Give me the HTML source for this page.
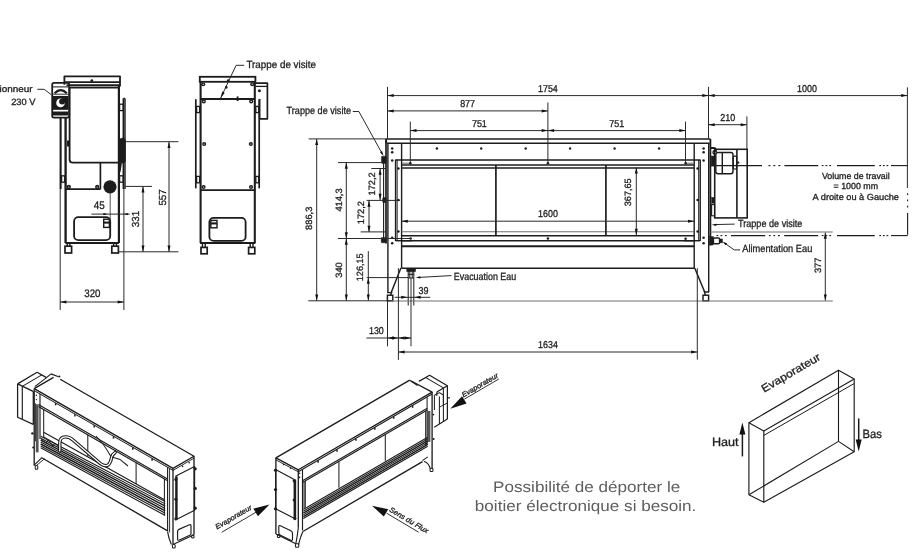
<!DOCTYPE html>
<html><head><meta charset="utf-8"><title>Plan</title>
<style>
html,body{margin:0;padding:0;background:#fff;}
body{width:923px;height:556px;overflow:hidden;font-family:"Liberation Sans",sans-serif;}
svg{display:block;font-family:"Liberation Sans",sans-serif;}
</style></head><body>
<svg style="will-change:transform;text-rendering:geometricPrecision" width="923" height="556" viewBox="0 0 923 556">
<rect x="0" y="0" width="923" height="556" fill="#ffffff"/>
<path d="M64.4 84.7 L64.4 76.3 L120 76.3 L120 86.5" fill="none" stroke="#1c1c1c" stroke-width="1.82" stroke-linejoin="round"/>
<line x1="64.4" y1="82.1" x2="120" y2="82.1" stroke="#1c1c1c" stroke-width="1.56"/>
<line x1="66.5" y1="85.2" x2="120" y2="85.2" stroke="#1c1c1c" stroke-width="1.95"/>
<line x1="69" y1="87.6" x2="119.3" y2="87.6" stroke="#1c1c1c" stroke-width="1.95"/>
<circle cx="91.8" cy="80.6" r="1.35" fill="#1c1c1c" stroke="none" stroke-width="0"/>
<path d="M69.6 87.6 V159.5 Q69.6 162.7 72.8 162.7 H118.7" fill="none" stroke="#1c1c1c" stroke-width="1.82"/>
<line x1="118.9" y1="86" x2="118.9" y2="243" stroke="#1c1c1c" stroke-width="2.21"/>
<line x1="60.6" y1="118" x2="60.6" y2="189" stroke="#1c1c1c" stroke-width="2.08"/>
<line x1="65.6" y1="118" x2="65.6" y2="243" stroke="#1c1c1c" stroke-width="2.34"/>
<rect x="61.6" y="175.8" width="3" height="6.4" rx="0" fill="none" stroke="#1c1c1c" stroke-width="1.3"/>
<line x1="68.2" y1="140.5" x2="68.2" y2="146.5" stroke="#1c1c1c" stroke-width="2.34"/>
<line x1="123.4" y1="98.4" x2="123.4" y2="189" stroke="#1c1c1c" stroke-width="1.69"/>
<line x1="125" y1="98.4" x2="125" y2="189" stroke="#1c1c1c" stroke-width="1.43"/>
<line x1="123.4" y1="98.4" x2="125" y2="98.4" stroke="#1c1c1c" stroke-width="1.3"/>
<rect x="119.6" y="104.2" width="3.6" height="6.4" rx="0" fill="none" stroke="#1c1c1c" stroke-width="1.3"/>
<rect x="119.6" y="175.8" width="3.6" height="6.4" rx="0" fill="none" stroke="#1c1c1c" stroke-width="1.3"/>
<rect x="119.4" y="138.2" width="6" height="24.8" rx="2.6" fill="#1c1c1c" stroke="#1c1c1c" stroke-width="0.65"/>
<line x1="121" y1="163" x2="119.6" y2="172" stroke="#1c1c1c" stroke-width="1.82"/>
<line x1="100.4" y1="162.7" x2="100.4" y2="189.3" stroke="#1c1c1c" stroke-width="1.69"/>
<line x1="66" y1="189.2" x2="100.4" y2="189.2" stroke="#1c1c1c" stroke-width="1.82"/>
<circle cx="68.8" cy="187" r="2.15" fill="#1c1c1c" stroke="none" stroke-width="0"/>
<circle cx="68.8" cy="187" r="0.62" fill="#fff" stroke="none" stroke-width="0"/>
<circle cx="97.2" cy="187" r="2.15" fill="#1c1c1c" stroke="none" stroke-width="0"/>
<circle cx="97.2" cy="187" r="0.62" fill="#fff" stroke="none" stroke-width="0"/>
<circle cx="110" cy="186.8" r="6.6" fill="#1c1c1c" stroke="none" stroke-width="0"/>
<line x1="110.2" y1="192" x2="110.2" y2="219.5" stroke="#2a2a2a" stroke-width="0.8"/>
<line x1="65.4" y1="243" x2="118.9" y2="243" stroke="#1c1c1c" stroke-width="1.82"/>
<rect x="74.1" y="217.1" width="36.1" height="23" rx="4.2" fill="none" stroke="#1c1c1c" stroke-width="1.82"/>
<rect x="103.7" y="219.2" width="5.7" height="8.2" rx="0" fill="none" stroke="#1c1c1c" stroke-width="1.43"/>
<line x1="103.7" y1="222.6" x2="109.4" y2="222.6" stroke="#1c1c1c" stroke-width="2.08"/>
<line x1="67.2" y1="243" x2="67.2" y2="246" stroke="#1c1c1c" stroke-width="1.43"/>
<line x1="69.8" y1="243" x2="69.8" y2="246" stroke="#1c1c1c" stroke-width="1.43"/>
<line x1="113.6" y1="243" x2="113.6" y2="246" stroke="#1c1c1c" stroke-width="1.43"/>
<line x1="116.4" y1="243" x2="116.4" y2="246" stroke="#1c1c1c" stroke-width="1.43"/>
<rect x="65" y="246.2" width="6.6" height="6.8" rx="0" fill="none" stroke="#1c1c1c" stroke-width="1.69"/>
<rect x="111.8" y="246.2" width="6.6" height="6.8" rx="0" fill="none" stroke="#1c1c1c" stroke-width="1.69"/>
<rect x="52.2" y="82.8" width="17" height="34.8" rx="1.8" fill="none" stroke="#1c1c1c" stroke-width="1.76"/>
<line x1="52.6" y1="86.9" x2="68.8" y2="86.9" stroke="#1c1c1c" stroke-width="1.04"/>
<path d="M54.6 93.2 Q60.7 87.0 66.8 93.2" fill="none" stroke="#1c1c1c" stroke-width="2.21"/>
<line x1="53" y1="94.2" x2="68.4" y2="94.2" stroke="#1c1c1c" stroke-width="0.91"/>
<rect x="53" y="96" width="15.4" height="13.8" rx="0" fill="#1c1c1c" stroke="#1c1c1c" stroke-width="0.13"/>
<rect x="53" y="111.6" width="15.4" height="3.8" rx="0" fill="#1c1c1c" stroke="#1c1c1c" stroke-width="0.13"/>
<circle cx="60.5" cy="102.9" r="4.3" fill="#fff" stroke="none" stroke-width="0"/>
<circle cx="62.1" cy="101.5" r="3" fill="#1c1c1c" stroke="none" stroke-width="0"/>
<rect x="62.4" y="99.4" width="4.2" height="2" rx="0" fill="#1c1c1c" stroke="#1c1c1c" stroke-width="0.13"/>
<text x="32.6" y="92.3" font-size="9.1" text-anchor="end" fill="#1e1e1e" textLength="53" lengthAdjust="spacingAndGlyphs" stroke="#1e1e1e" stroke-width="0.3">Sectionneur</text>
<text x="35.4" y="104.5" font-size="9.1" text-anchor="end" fill="#1e1e1e" textLength="24.2" lengthAdjust="spacingAndGlyphs" stroke="#1e1e1e" stroke-width="0.3">230 V</text>
<path d="M37.3 89.3 L44.2 89.3 L51.4 94.8" fill="none" stroke="#2a2a2a" stroke-width="1" stroke-linejoin="round"/>
<line x1="60.2" y1="189" x2="60.2" y2="310" stroke="#2a2a2a" stroke-width="1"/>
<line x1="123.9" y1="189" x2="123.9" y2="310" stroke="#2a2a2a" stroke-width="1"/>
<line x1="60.2" y1="302" x2="123.9" y2="302" stroke="#2a2a2a" stroke-width="1"/>
<polygon points="60.2,302 66.4,300.5 66.4,303.5" fill="#111"/>
<polygon points="123.9,302 117.7,303.5 117.7,300.5" fill="#111"/>
<text x="92.4" y="296.6" font-size="10.9" text-anchor="middle" fill="#1e1e1e" textLength="16.2" lengthAdjust="spacingAndGlyphs" stroke="#1e1e1e" stroke-width="0.3">320</text>
<line x1="91.4" y1="214.1" x2="129.7" y2="214.1" stroke="#2a2a2a" stroke-width="1"/>
<polygon points="107.8,214.1 103.4,215.3 103.4,212.9" fill="#111"/>
<polygon points="123.9,214.1 127.9,212.9 127.9,215.3" fill="#111"/>
<text x="99.2" y="209.4" font-size="10.9" text-anchor="middle" fill="#1e1e1e" textLength="11" lengthAdjust="spacingAndGlyphs" stroke="#1e1e1e" stroke-width="0.3">45</text>
<line x1="125.4" y1="186.4" x2="152" y2="186.4" stroke="#2a2a2a" stroke-width="1"/>
<line x1="118.7" y1="251.8" x2="178.4" y2="251.8" stroke="#2a2a2a" stroke-width="1"/>
<line x1="143" y1="186.4" x2="143" y2="251.8" stroke="#2a2a2a" stroke-width="1"/>
<polygon points="143,186.4 144.5,192.6 141.5,192.6" fill="#111"/>
<polygon points="143,251.8 141.5,245.6 144.5,245.6" fill="#111"/>
<text x="138.97" y="219" font-size="10.2" text-anchor="middle" fill="#1e1e1e" transform="rotate(-90 138.97 219)" textLength="16.4" lengthAdjust="spacingAndGlyphs" stroke="#1e1e1e" stroke-width="0.3">331</text>
<line x1="125.4" y1="141.7" x2="178.4" y2="141.7" stroke="#2a2a2a" stroke-width="1"/>
<line x1="169" y1="141.7" x2="169" y2="251.8" stroke="#2a2a2a" stroke-width="1"/>
<polygon points="169,141.7 170.5,147.9 167.5,147.9" fill="#111"/>
<polygon points="169,251.8 167.5,245.6 170.5,245.6" fill="#111"/>
<text x="165.97" y="197.4" font-size="10.2" text-anchor="middle" fill="#1e1e1e" transform="rotate(-90 165.97 197.4)" textLength="16.4" lengthAdjust="spacingAndGlyphs" stroke="#1e1e1e" stroke-width="0.3">557</text>
<rect x="199.8" y="76.8" width="55.6" height="5" rx="0" fill="none" stroke="#1c1c1c" stroke-width="1.82"/>
<line x1="200.6" y1="81.8" x2="200.6" y2="243" stroke="#1c1c1c" stroke-width="2.08"/>
<line x1="254.8" y1="81.8" x2="254.8" y2="243" stroke="#1c1c1c" stroke-width="2.08"/>
<line x1="200" y1="99" x2="255" y2="99" stroke="#1c1c1c" stroke-width="1.82"/>
<path d="M255.4 83.2 L267.4 83.2 L267.4 118.8 L259.6 118.8 L259.6 99" fill="none" stroke="#1c1c1c" stroke-width="1.69" stroke-linejoin="round"/>
<line x1="255.4" y1="86.4" x2="267.4" y2="86.4" stroke="#1c1c1c" stroke-width="1.3"/>
<circle cx="259.4" cy="90.8" r="1.5" fill="#1c1c1c" stroke="none" stroke-width="0"/>
<line x1="195.8" y1="99.2" x2="195.8" y2="188.4" stroke="#1c1c1c" stroke-width="1.69"/>
<line x1="259.2" y1="99.2" x2="259.2" y2="188.4" stroke="#1c1c1c" stroke-width="1.69"/>
<rect x="196.6" y="106.4" width="3" height="6.2" rx="0" fill="none" stroke="#1c1c1c" stroke-width="1.3"/>
<rect x="255.8" y="106.4" width="2.8" height="6.2" rx="0" fill="none" stroke="#1c1c1c" stroke-width="1.3"/>
<rect x="196.6" y="176.4" width="3" height="6.4" rx="0" fill="none" stroke="#1c1c1c" stroke-width="1.3"/>
<rect x="255.8" y="176.4" width="2.8" height="6.4" rx="0" fill="none" stroke="#1c1c1c" stroke-width="1.3"/>
<circle cx="203.2" cy="84.2" r="2.05" fill="#1c1c1c" stroke="none" stroke-width="0"/>
<circle cx="203.2" cy="84.2" r="0.62" fill="#fff" stroke="none" stroke-width="0"/>
<circle cx="252.2" cy="84.2" r="2.05" fill="#1c1c1c" stroke="none" stroke-width="0"/>
<circle cx="252.2" cy="84.2" r="0.62" fill="#fff" stroke="none" stroke-width="0"/>
<circle cx="203.8" cy="101.4" r="2.05" fill="#1c1c1c" stroke="none" stroke-width="0"/>
<circle cx="203.8" cy="101.4" r="0.62" fill="#fff" stroke="none" stroke-width="0"/>
<circle cx="251.2" cy="101.4" r="2.05" fill="#1c1c1c" stroke="none" stroke-width="0"/>
<circle cx="251.2" cy="101.4" r="0.62" fill="#fff" stroke="none" stroke-width="0"/>
<circle cx="204.2" cy="144" r="2.05" fill="#1c1c1c" stroke="none" stroke-width="0"/>
<circle cx="204.2" cy="144" r="0.62" fill="#fff" stroke="none" stroke-width="0"/>
<circle cx="250.8" cy="144" r="2.05" fill="#1c1c1c" stroke="none" stroke-width="0"/>
<circle cx="250.8" cy="144" r="0.62" fill="#fff" stroke="none" stroke-width="0"/>
<circle cx="203.6" cy="187" r="2.05" fill="#1c1c1c" stroke="none" stroke-width="0"/>
<circle cx="203.6" cy="187" r="0.62" fill="#fff" stroke="none" stroke-width="0"/>
<circle cx="251" cy="187" r="2.05" fill="#1c1c1c" stroke="none" stroke-width="0"/>
<circle cx="251" cy="187" r="0.62" fill="#fff" stroke="none" stroke-width="0"/>
<line x1="237.6" y1="96.4" x2="237.6" y2="101" stroke="#1c1c1c" stroke-width="1.82"/>
<line x1="200" y1="190.2" x2="255.4" y2="190.2" stroke="#1c1c1c" stroke-width="1.82"/>
<line x1="200" y1="243" x2="255.4" y2="243" stroke="#1c1c1c" stroke-width="1.82"/>
<rect x="209.4" y="217.8" width="36.2" height="23.1" rx="4.2" fill="none" stroke="#1c1c1c" stroke-width="1.82"/>
<rect x="210.8" y="220.4" width="6.2" height="7.4" rx="0" fill="none" stroke="#1c1c1c" stroke-width="1.43"/>
<line x1="210.8" y1="223.4" x2="217" y2="223.4" stroke="#1c1c1c" stroke-width="2.08"/>
<line x1="202.4" y1="243" x2="202.4" y2="247.4" stroke="#1c1c1c" stroke-width="1.43"/>
<line x1="205.2" y1="243" x2="205.2" y2="247.4" stroke="#1c1c1c" stroke-width="1.43"/>
<line x1="250.2" y1="243" x2="250.2" y2="247.4" stroke="#1c1c1c" stroke-width="1.43"/>
<line x1="253" y1="243" x2="253" y2="247.4" stroke="#1c1c1c" stroke-width="1.43"/>
<rect x="201" y="247.4" width="6.2" height="6.4" rx="0" fill="none" stroke="#1c1c1c" stroke-width="1.69"/>
<rect x="248.6" y="247.4" width="6.2" height="6.4" rx="0" fill="none" stroke="#1c1c1c" stroke-width="1.69"/>
<text x="246.4" y="68" font-size="10.4" text-anchor="start" fill="#1e1e1e" textLength="69.6" lengthAdjust="spacingAndGlyphs" stroke="#1e1e1e" stroke-width="0.3">Trappe de visite</text>
<path d="M244.2 65.3 L236.1 65.3 L220.4 98.6" fill="none" stroke="#2a2a2a" stroke-width="1" stroke-linejoin="round"/>
<polygon points="220.5,98.4 222.27,91.49 224.71,92.65" fill="#111"/>
<circle cx="228.2" cy="80.5" r="1.3" fill="#1c1c1c" stroke="none" stroke-width="0"/>
<circle cx="226.3" cy="87.4" r="1.3" fill="#1c1c1c" stroke="none" stroke-width="0"/>
<line x1="386" y1="139" x2="710.4" y2="139" stroke="#1c1c1c" stroke-width="1.57"/>
<line x1="387" y1="143.2" x2="709.6" y2="143.2" stroke="#1c1c1c" stroke-width="1.57"/>
<path d="M386.2 143.2 V139.6" fill="none" stroke="#1c1c1c" stroke-width="1.79"/>
<line x1="386" y1="139" x2="386" y2="243.5" stroke="#1c1c1c" stroke-width="1.68"/>
<line x1="387.9" y1="143" x2="387.9" y2="293" stroke="#1c1c1c" stroke-width="1.4"/>
<line x1="708.7" y1="143" x2="708.7" y2="292" stroke="#1c1c1c" stroke-width="1.4"/>
<line x1="710.4" y1="139" x2="710.4" y2="245.5" stroke="#1c1c1c" stroke-width="1.79"/>
<line x1="401.6" y1="143.2" x2="401.6" y2="268.2" stroke="#1c1c1c" stroke-width="1.4"/>
<line x1="694.2" y1="143.2" x2="694.2" y2="268.2" stroke="#1c1c1c" stroke-width="1.4"/>
<path d="M395.6 241 L395.6 159.9 L700.2 159.9 L700.2 241" fill="none" stroke="#1c1c1c" stroke-width="1.46" stroke-linejoin="round"/>
<line x1="395.6" y1="240.7" x2="412" y2="240.7" stroke="#1c1c1c" stroke-width="1.46"/>
<line x1="684" y1="240.7" x2="700.2" y2="240.7" stroke="#1c1c1c" stroke-width="1.46"/>
<line x1="401.6" y1="165" x2="694.2" y2="165" stroke="#1c1c1c" stroke-width="1.46"/>
<line x1="401.6" y1="167.9" x2="694.2" y2="167.9" stroke="#1c1c1c" stroke-width="1.46"/>
<line x1="402" y1="163.2" x2="411" y2="163.2" stroke="#777" stroke-width="1.12"/>
<line x1="685" y1="163.2" x2="694" y2="163.2" stroke="#777" stroke-width="1.12"/>
<line x1="397.2" y1="159.9" x2="397.2" y2="241" stroke="#1c1c1c" stroke-width="0.9"/>
<line x1="698.6" y1="159.9" x2="698.6" y2="241" stroke="#1c1c1c" stroke-width="0.9"/>
<line x1="401.6" y1="231.8" x2="694.2" y2="231.8" stroke="#707070" stroke-width="1.12"/>
<line x1="401.6" y1="235.7" x2="694.2" y2="235.7" stroke="#1c1c1c" stroke-width="1.57"/>
<line x1="401.6" y1="240.7" x2="694.2" y2="240.7" stroke="#1c1c1c" stroke-width="1.46"/>
<line x1="401.6" y1="246.3" x2="694.2" y2="246.3" stroke="#1c1c1c" stroke-width="1.9"/>
<line x1="401.6" y1="268.2" x2="694.2" y2="268.2" stroke="#1c1c1c" stroke-width="1.57"/>
<line x1="495.9" y1="165" x2="495.9" y2="235.7" stroke="#1c1c1c" stroke-width="1.68"/>
<line x1="605.9" y1="165" x2="605.9" y2="235.7" stroke="#1c1c1c" stroke-width="1.68"/>
<circle cx="436.9" cy="148.5" r="1.2" fill="#1c1c1c" stroke="none" stroke-width="0"/>
<circle cx="481.2" cy="148.5" r="1.2" fill="#1c1c1c" stroke="none" stroke-width="0"/>
<circle cx="525.7" cy="148.5" r="1.2" fill="#1c1c1c" stroke="none" stroke-width="0"/>
<circle cx="570.1" cy="148.5" r="1.2" fill="#1c1c1c" stroke="none" stroke-width="0"/>
<circle cx="614.6" cy="148.5" r="1.2" fill="#1c1c1c" stroke="none" stroke-width="0"/>
<circle cx="659.1" cy="148.5" r="1.2" fill="#1c1c1c" stroke="none" stroke-width="0"/>
<circle cx="392.2" cy="148.4" r="1.25" fill="#1c1c1c" stroke="none" stroke-width="0"/>
<circle cx="703.6" cy="148.4" r="1.25" fill="#1c1c1c" stroke="none" stroke-width="0"/>
<circle cx="392.2" cy="152.3" r="1.25" fill="#1c1c1c" stroke="none" stroke-width="0"/>
<circle cx="703.6" cy="152.3" r="1.25" fill="#1c1c1c" stroke="none" stroke-width="0"/>
<circle cx="392.2" cy="160.6" r="1.25" fill="#1c1c1c" stroke="none" stroke-width="0"/>
<circle cx="703.6" cy="160.6" r="1.25" fill="#1c1c1c" stroke="none" stroke-width="0"/>
<circle cx="392.2" cy="237.7" r="1.25" fill="#1c1c1c" stroke="none" stroke-width="0"/>
<circle cx="703.6" cy="237.7" r="1.25" fill="#1c1c1c" stroke="none" stroke-width="0"/>
<circle cx="392.2" cy="243.2" r="1.25" fill="#1c1c1c" stroke="none" stroke-width="0"/>
<circle cx="703.6" cy="243.2" r="1.25" fill="#1c1c1c" stroke="none" stroke-width="0"/>
<circle cx="410.4" cy="163.2" r="1.25" fill="#1c1c1c" stroke="none" stroke-width="0"/>
<circle cx="547.9" cy="163.2" r="1.25" fill="#1c1c1c" stroke="none" stroke-width="0"/>
<circle cx="685.6" cy="163.2" r="1.25" fill="#1c1c1c" stroke="none" stroke-width="0"/>
<circle cx="398.4" cy="168.5" r="1.25" fill="#1c1c1c" stroke="none" stroke-width="0"/>
<circle cx="697.6" cy="168.5" r="1.25" fill="#1c1c1c" stroke="none" stroke-width="0"/>
<circle cx="398.4" cy="200.1" r="1.25" fill="#1c1c1c" stroke="none" stroke-width="0"/>
<circle cx="697.6" cy="200.1" r="1.25" fill="#1c1c1c" stroke="none" stroke-width="0"/>
<circle cx="398.4" cy="231.4" r="1.25" fill="#1c1c1c" stroke="none" stroke-width="0"/>
<circle cx="697.6" cy="231.4" r="1.25" fill="#1c1c1c" stroke="none" stroke-width="0"/>
<circle cx="410.6" cy="238.6" r="1.25" fill="#1c1c1c" stroke="none" stroke-width="0"/>
<circle cx="547.9" cy="238.6" r="1.25" fill="#1c1c1c" stroke="none" stroke-width="0"/>
<circle cx="685.6" cy="238.7" r="1.25" fill="#1c1c1c" stroke="none" stroke-width="0"/>
<rect x="381.4" y="156.2" width="5" height="7.2" rx="0.8" fill="#1c1c1c" stroke="#1c1c1c" stroke-width="0.45"/>
<rect x="381.2" y="237.4" width="5.2" height="5.4" rx="0.8" fill="#1c1c1c" stroke="#1c1c1c" stroke-width="0.45"/>
<rect x="382.6" y="197.6" width="3.6" height="5" rx="1.2" fill="#1c1c1c" stroke="#1c1c1c" stroke-width="0.45"/>
<line x1="383.6" y1="163" x2="383.6" y2="238" stroke="#1c1c1c" stroke-width="1.12"/>
<line x1="400.9" y1="268" x2="391.2" y2="292.4" stroke="#1c1c1c" stroke-width="1.46"/>
<line x1="694.7" y1="268" x2="704.8" y2="292.2" stroke="#1c1c1c" stroke-width="1.46"/>
<rect x="387.4" y="295.2" width="5.4" height="5.6" rx="0" fill="none" stroke="#1c1c1c" stroke-width="1.46"/>
<rect x="703" y="295.2" width="5.6" height="5.6" rx="0" fill="none" stroke="#1c1c1c" stroke-width="1.46"/>
<path d="M387.4 292.6 H391.6 L390.6 295.2" fill="none" stroke="#1c1c1c" stroke-width="1.34"/>
<path d="M709.2 292 H704.4 L705.4 295.2" fill="none" stroke="#1c1c1c" stroke-width="1.34"/>
<rect x="406.8" y="268.6" width="8.8" height="3" rx="0" fill="#1c1c1c" stroke="#1c1c1c" stroke-width="0.56"/>
<line x1="408.2" y1="271" x2="408.2" y2="305.5" stroke="#1c1c1c" stroke-width="1.01"/>
<line x1="413.8" y1="271" x2="413.8" y2="305.5" stroke="#1c1c1c" stroke-width="1.01"/>
<line x1="409.8" y1="271" x2="409.8" y2="278" stroke="#1c1c1c" stroke-width="1.01"/>
<line x1="412.2" y1="271" x2="412.2" y2="278" stroke="#1c1c1c" stroke-width="1.01"/>
<line x1="408.2" y1="274.4" x2="413.8" y2="274.4" stroke="#1c1c1c" stroke-width="1.01"/>
<line x1="408.2" y1="278" x2="413.8" y2="278" stroke="#1c1c1c" stroke-width="1.01"/>
<rect x="714.7" y="149.3" width="32.5" height="68.6" rx="0" fill="none" stroke="#1c1c1c" stroke-width="1.57"/>
<line x1="736.9" y1="149.3" x2="736.9" y2="217.9" stroke="#1c1c1c" stroke-width="1.57"/>
<rect x="715.8" y="152.4" width="17.2" height="21.4" rx="2.2" fill="none" stroke="#1c1c1c" stroke-width="1.46"/>
<line x1="722.3" y1="152.4" x2="722.3" y2="173.8" stroke="#1c1c1c" stroke-width="1.46"/>
<rect x="733.2" y="156.2" width="3.4" height="12.8" rx="1" fill="none" stroke="#1c1c1c" stroke-width="1.23"/>
<circle cx="738.2" cy="162.6" r="1.2" fill="#1c1c1c" stroke="none" stroke-width="0"/>
<path d="M710.6 148 H713.4 Q716 148 716 150.6 V152" fill="none" stroke="#1c1c1c" stroke-width="1.79"/>
<path d="M714.4 150.4 Q711.8 152 714 154.4" fill="none" stroke="#1c1c1c" stroke-width="1.34"/>
<rect x="711.6" y="197.4" width="3" height="5.8" rx="0" fill="#1c1c1c" stroke="#1c1c1c" stroke-width="0.45"/>
<rect x="711.6" y="204.6" width="3" height="11.2" rx="0" fill="none" stroke="#1c1c1c" stroke-width="1.12"/>
<rect x="711.2" y="156" width="3.2" height="10" rx="0" fill="#1c1c1c" stroke="#1c1c1c" stroke-width="0.45"/>
<rect x="709.6" y="236.6" width="3.8" height="8.4" rx="0" fill="#1c1c1c" stroke="#1c1c1c" stroke-width="0.45"/>
<rect x="713.4" y="238" width="6.2" height="5.8" rx="1.3" fill="none" stroke="#1c1c1c" stroke-width="1.46"/>
<rect x="719.6" y="239" width="2.8" height="3.8" rx="0" fill="#1c1c1c" stroke="#1c1c1c" stroke-width="0.56"/>
<line x1="387.5" y1="86.9" x2="387.5" y2="139" stroke="#2a2a2a" stroke-width="1"/>
<line x1="708.5" y1="86.9" x2="708.5" y2="139" stroke="#2a2a2a" stroke-width="1"/>
<line x1="907.4" y1="87.4" x2="907.4" y2="188" stroke="#2a2a2a" stroke-width="1"/>
<line x1="547.9" y1="102.5" x2="547.9" y2="163.2" stroke="#2a2a2a" stroke-width="1"/>
<line x1="410.3" y1="121.6" x2="410.3" y2="163.2" stroke="#2a2a2a" stroke-width="1"/>
<line x1="685.5" y1="121.6" x2="685.5" y2="163.2" stroke="#2a2a2a" stroke-width="1"/>
<line x1="746.9" y1="116.4" x2="746.9" y2="149.3" stroke="#2a2a2a" stroke-width="1"/>
<line x1="387.5" y1="95.6" x2="708.5" y2="95.6" stroke="#2a2a2a" stroke-width="1"/>
<polygon points="387.5,95.6 393.7,94.1 393.7,97.1" fill="#111"/>
<polygon points="708.5,95.6 702.3,97.1 702.3,94.1" fill="#111"/>
<line x1="708.5" y1="95.6" x2="907.4" y2="95.6" stroke="#2a2a2a" stroke-width="1"/>
<polygon points="708.5,95.6 714.7,94.1 714.7,97.1" fill="#111"/>
<polygon points="907.4,95.6 901.2,97.1 901.2,94.1" fill="#111"/>
<text x="547.9" y="91.8" font-size="10" text-anchor="middle" fill="#1e1e1e" textLength="19.8" lengthAdjust="spacingAndGlyphs" stroke="#1e1e1e" stroke-width="0.3">1754</text>
<text x="807" y="92" font-size="10" text-anchor="middle" fill="#1e1e1e" textLength="19.8" lengthAdjust="spacingAndGlyphs" stroke="#1e1e1e" stroke-width="0.3">1000</text>
<line x1="387.5" y1="110.9" x2="547.9" y2="110.9" stroke="#2a2a2a" stroke-width="1"/>
<polygon points="387.5,110.9 393.7,109.4 393.7,112.4" fill="#111"/>
<polygon points="547.9,110.9 541.7,112.4 541.7,109.4" fill="#111"/>
<text x="467.6" y="106.9" font-size="10" text-anchor="middle" fill="#1e1e1e" textLength="14.9" lengthAdjust="spacingAndGlyphs" stroke="#1e1e1e" stroke-width="0.3">877</text>
<line x1="410.3" y1="130.6" x2="547.9" y2="130.6" stroke="#2a2a2a" stroke-width="1"/>
<polygon points="410.3,130.6 416.5,129.1 416.5,132.1" fill="#111"/>
<polygon points="547.9,130.6 541.7,132.1 541.7,129.1" fill="#111"/>
<line x1="547.9" y1="130.6" x2="685.5" y2="130.6" stroke="#2a2a2a" stroke-width="1"/>
<polygon points="547.9,130.6 554.1,129.1 554.1,132.1" fill="#111"/>
<polygon points="685.5,130.6 679.3,132.1 679.3,129.1" fill="#111"/>
<text x="479.4" y="126.8" font-size="10" text-anchor="middle" fill="#1e1e1e" textLength="14.9" lengthAdjust="spacingAndGlyphs" stroke="#1e1e1e" stroke-width="0.3">751</text>
<text x="616.8" y="126.8" font-size="10" text-anchor="middle" fill="#1e1e1e" textLength="14.9" lengthAdjust="spacingAndGlyphs" stroke="#1e1e1e" stroke-width="0.3">751</text>
<line x1="708.5" y1="124.7" x2="746.9" y2="124.7" stroke="#2a2a2a" stroke-width="1"/>
<polygon points="708.5,124.7 714.7,123.2 714.7,126.2" fill="#111"/>
<polygon points="746.9,124.7 740.7,126.2 740.7,123.2" fill="#111"/>
<text x="727.8" y="121" font-size="10" text-anchor="middle" fill="#1e1e1e" textLength="14.9" lengthAdjust="spacingAndGlyphs" stroke="#1e1e1e" stroke-width="0.3">210</text>
<line x1="401.6" y1="221.2" x2="694.2" y2="221.2" stroke="#2a2a2a" stroke-width="1"/>
<polygon points="401.6,221.2 407.8,219.7 407.8,222.7" fill="#111"/>
<polygon points="694.2,221.2 688,222.7 688,219.7" fill="#111"/>
<text x="548" y="216.6" font-size="10" text-anchor="middle" fill="#1e1e1e" textLength="19.8" lengthAdjust="spacingAndGlyphs" stroke="#1e1e1e" stroke-width="0.3">1600</text>
<line x1="636.3" y1="167.4" x2="636.3" y2="235" stroke="#2a2a2a" stroke-width="1"/>
<polygon points="636.3,167.4 637.8,173.6 634.8,173.6" fill="#111"/>
<polygon points="636.3,235 634.8,228.8 637.8,228.8" fill="#111"/>
<text x="630.91" y="192.3" font-size="9.2" text-anchor="middle" fill="#1e1e1e" transform="rotate(-90 630.91 192.3)" textLength="27.8" lengthAdjust="spacingAndGlyphs" stroke="#1e1e1e" stroke-width="0.3">367,65</text>
<line x1="308.6" y1="138.9" x2="386" y2="138.9" stroke="#2a2a2a" stroke-width="1"/>
<line x1="308.3" y1="300.8" x2="389.5" y2="300.8" stroke="#2a2a2a" stroke-width="1"/>
<line x1="316.7" y1="138.9" x2="316.7" y2="300.8" stroke="#2a2a2a" stroke-width="1"/>
<polygon points="316.7,138.9 318.2,145.1 315.2,145.1" fill="#111"/>
<polygon points="316.7,300.8 315.2,294.6 318.2,294.6" fill="#111"/>
<text x="311.81" y="218.3" font-size="9.2" text-anchor="middle" fill="#1e1e1e" transform="rotate(-90 311.81 218.3)" textLength="23.2" lengthAdjust="spacingAndGlyphs" stroke="#1e1e1e" stroke-width="0.3">886,3</text>
<line x1="338" y1="162.6" x2="381.4" y2="162.6" stroke="#2a2a2a" stroke-width="1"/>
<line x1="337.9" y1="238.5" x2="412" y2="238.5" stroke="#2a2a2a" stroke-width="1"/>
<line x1="346.3" y1="162.6" x2="346.3" y2="238.5" stroke="#2a2a2a" stroke-width="1"/>
<polygon points="346.3,162.6 347.8,168.8 344.8,168.8" fill="#111"/>
<polygon points="346.3,238.5 344.8,232.3 347.8,232.3" fill="#111"/>
<line x1="346.3" y1="238.5" x2="346.3" y2="300.8" stroke="#2a2a2a" stroke-width="1"/>
<polygon points="346.3,238.5 347.8,244.7 344.8,244.7" fill="#111"/>
<polygon points="346.3,300.8 344.8,294.6 347.8,294.6" fill="#111"/>
<text x="341.71" y="200" font-size="9.2" text-anchor="middle" fill="#1e1e1e" transform="rotate(-90 341.71 200)" textLength="23.2" lengthAdjust="spacingAndGlyphs" stroke="#1e1e1e" stroke-width="0.3">414,3</text>
<text x="342.01" y="270" font-size="9.2" text-anchor="middle" fill="#1e1e1e" transform="rotate(-90 342.01 270)" textLength="15.6" lengthAdjust="spacingAndGlyphs" stroke="#1e1e1e" stroke-width="0.3">340</text>
<line x1="371.3" y1="168.5" x2="386" y2="168.5" stroke="#2a2a2a" stroke-width="1"/>
<line x1="366.7" y1="200.4" x2="400" y2="200.4" stroke="#2a2a2a" stroke-width="1"/>
<line x1="380.1" y1="168.5" x2="380.1" y2="200" stroke="#2a2a2a" stroke-width="1"/>
<polygon points="380.1,168.5 381.6,174.7 378.6,174.7" fill="#111"/>
<polygon points="380.1,200 378.6,193.8 381.6,193.8" fill="#111"/>
<text x="374.91" y="183.9" font-size="9.2" text-anchor="middle" fill="#1e1e1e" transform="rotate(-90 374.91 183.9)" textLength="23.2" lengthAdjust="spacingAndGlyphs" stroke="#1e1e1e" stroke-width="0.3">172,2</text>
<line x1="360.7" y1="231.9" x2="386" y2="231.9" stroke="#2a2a2a" stroke-width="1"/>
<line x1="369" y1="200.6" x2="369" y2="231.9" stroke="#2a2a2a" stroke-width="1"/>
<polygon points="369,200.6 370.5,206.8 367.5,206.8" fill="#111"/>
<polygon points="369,231.9 367.5,225.7 370.5,225.7" fill="#111"/>
<text x="363.61" y="212.6" font-size="9.2" text-anchor="middle" fill="#1e1e1e" transform="rotate(-90 363.61 212.6)" textLength="23.2" lengthAdjust="spacingAndGlyphs" stroke="#1e1e1e" stroke-width="0.3">172,2</text>
<line x1="368.3" y1="251.1" x2="368.3" y2="300.4" stroke="#2a2a2a" stroke-width="1"/>
<line x1="366.7" y1="277.6" x2="408" y2="277.6" stroke="#2a2a2a" stroke-width="1"/>
<polygon points="368.3,277.6 369.8,283.8 366.8,283.8" fill="#111"/>
<polygon points="368.3,300.6 366.8,294.4 369.8,294.4" fill="#111"/>
<text x="363.01" y="267.3" font-size="9.2" text-anchor="middle" fill="#1e1e1e" transform="rotate(-90 363.01 267.3)" textLength="27.8" lengthAdjust="spacingAndGlyphs" stroke="#1e1e1e" stroke-width="0.3">126,15</text>
<line x1="389.5" y1="301" x2="832.8" y2="301" stroke="#707070" stroke-width="1.23"/>
<line x1="710.4" y1="232" x2="832.8" y2="232" stroke="#707070" stroke-width="1.23"/>
<line x1="825.3" y1="232.6" x2="825.3" y2="300.6" stroke="#2a2a2a" stroke-width="1"/>
<polygon points="825.3,232.6 826.8,238.8 823.8,238.8" fill="#111"/>
<polygon points="825.3,300.6 823.8,294.4 826.8,294.4" fill="#111"/>
<text x="821.31" y="265.3" font-size="9.2" text-anchor="middle" fill="#1e1e1e" transform="rotate(-90 821.31 265.3)" textLength="15.6" lengthAdjust="spacingAndGlyphs" stroke="#1e1e1e" stroke-width="0.3">377</text>
<line x1="394.6" y1="297.3" x2="430.2" y2="297.3" stroke="#2a2a2a" stroke-width="1"/>
<polygon points="407.4,297.3 401.2,298.8 401.2,295.8" fill="#111"/>
<polygon points="414.4,297.3 420.6,295.8 420.6,298.8" fill="#111"/>
<text x="423.4" y="293.6" font-size="10" text-anchor="middle" fill="#1e1e1e" textLength="10" lengthAdjust="spacingAndGlyphs" stroke="#1e1e1e" stroke-width="0.3">39</text>
<line x1="387.5" y1="301" x2="387.5" y2="346.3" stroke="#2a2a2a" stroke-width="1"/>
<line x1="398.4" y1="268.2" x2="398.4" y2="359.9" stroke="#2a2a2a" stroke-width="1"/>
<line x1="411" y1="278" x2="411" y2="346.3" stroke="#2a2a2a" stroke-width="1"/>
<line x1="366.5" y1="338" x2="411" y2="338" stroke="#2a2a2a" stroke-width="1"/>
<polygon points="387.5,338 393.7,336.5 393.7,339.5" fill="#111"/>
<polygon points="398.4,338 392.2,339.5 392.2,336.5" fill="#111"/>
<polygon points="398.4,338 404.6,336.5 404.6,339.5" fill="#111"/>
<polygon points="411,338 404.8,339.5 404.8,336.5" fill="#111"/>
<text x="376.4" y="333.9" font-size="10" text-anchor="middle" fill="#1e1e1e" textLength="14.9" lengthAdjust="spacingAndGlyphs" stroke="#1e1e1e" stroke-width="0.3">130</text>
<line x1="697.3" y1="268.2" x2="697.3" y2="359.6" stroke="#2a2a2a" stroke-width="1"/>
<line x1="398.4" y1="352" x2="697.3" y2="352" stroke="#2a2a2a" stroke-width="1"/>
<polygon points="398.4,352 404.6,350.5 404.6,353.5" fill="#111"/>
<polygon points="697.3,352 691.1,353.5 691.1,350.5" fill="#111"/>
<text x="548" y="347.6" font-size="10" text-anchor="middle" fill="#1e1e1e" textLength="19.8" lengthAdjust="spacingAndGlyphs" stroke="#1e1e1e" stroke-width="0.3">1634</text>
<line x1="711" y1="165.6" x2="762" y2="165.6" stroke="#1c1c1c" stroke-width="1.12"/>
<line x1="768.4" y1="165.6" x2="770.4" y2="165.6" stroke="#1c1c1c" stroke-width="1.12"/>
<line x1="773.3" y1="165.6" x2="775.3" y2="165.6" stroke="#1c1c1c" stroke-width="1.12"/>
<line x1="778.4" y1="165.6" x2="780.4" y2="165.6" stroke="#1c1c1c" stroke-width="1.12"/>
<line x1="784.4" y1="165.6" x2="818.2" y2="165.6" stroke="#1c1c1c" stroke-width="1.12"/>
<line x1="821.7" y1="165.6" x2="823.5" y2="165.6" stroke="#1c1c1c" stroke-width="1.12"/>
<line x1="825.5" y1="165.6" x2="827.3" y2="165.6" stroke="#1c1c1c" stroke-width="1.12"/>
<line x1="829.3" y1="165.6" x2="831.1" y2="165.6" stroke="#1c1c1c" stroke-width="1.12"/>
<line x1="837" y1="165.6" x2="874.8" y2="165.6" stroke="#1c1c1c" stroke-width="1.12"/>
<line x1="879.3" y1="165.6" x2="881.1" y2="165.6" stroke="#1c1c1c" stroke-width="1.12"/>
<line x1="882.9" y1="165.6" x2="884.7" y2="165.6" stroke="#1c1c1c" stroke-width="1.12"/>
<line x1="886.5" y1="165.6" x2="888.3" y2="165.6" stroke="#1c1c1c" stroke-width="1.12"/>
<line x1="891" y1="165.6" x2="907.7" y2="165.6" stroke="#1c1c1c" stroke-width="1.12"/>
<line x1="907.6" y1="193.2" x2="907.6" y2="195" stroke="#1c1c1c" stroke-width="1.12"/>
<line x1="907.6" y1="199.5" x2="907.6" y2="201.3" stroke="#1c1c1c" stroke-width="1.12"/>
<line x1="907.6" y1="205.8" x2="907.6" y2="207.6" stroke="#1c1c1c" stroke-width="1.12"/>
<line x1="907.6" y1="213" x2="907.6" y2="234.8" stroke="#1c1c1c" stroke-width="1.12"/>
<line x1="716.5" y1="235.6" x2="718.3" y2="235.6" stroke="#1c1c1c" stroke-width="1.12"/>
<line x1="720.5" y1="235.6" x2="722.3" y2="235.6" stroke="#1c1c1c" stroke-width="1.12"/>
<line x1="724.9" y1="235.6" x2="726.7" y2="235.6" stroke="#1c1c1c" stroke-width="1.12"/>
<line x1="731" y1="235.6" x2="765.2" y2="235.6" stroke="#1c1c1c" stroke-width="1.12"/>
<line x1="768.9" y1="235.6" x2="770.7" y2="235.6" stroke="#1c1c1c" stroke-width="1.12"/>
<line x1="773.4" y1="235.6" x2="775.2" y2="235.6" stroke="#1c1c1c" stroke-width="1.12"/>
<line x1="778" y1="235.6" x2="779.8" y2="235.6" stroke="#1c1c1c" stroke-width="1.12"/>
<line x1="784.2" y1="235.6" x2="818.2" y2="235.6" stroke="#1c1c1c" stroke-width="1.12"/>
<line x1="821.7" y1="235.6" x2="823.5" y2="235.6" stroke="#1c1c1c" stroke-width="1.12"/>
<line x1="825.5" y1="235.6" x2="827.3" y2="235.6" stroke="#1c1c1c" stroke-width="1.12"/>
<line x1="829.3" y1="235.6" x2="831.1" y2="235.6" stroke="#1c1c1c" stroke-width="1.12"/>
<line x1="837" y1="235.6" x2="874.8" y2="235.6" stroke="#1c1c1c" stroke-width="1.12"/>
<line x1="879.3" y1="235.6" x2="881.1" y2="235.6" stroke="#1c1c1c" stroke-width="1.12"/>
<line x1="882.9" y1="235.6" x2="884.7" y2="235.6" stroke="#1c1c1c" stroke-width="1.12"/>
<line x1="886.5" y1="235.6" x2="888.3" y2="235.6" stroke="#1c1c1c" stroke-width="1.12"/>
<line x1="891" y1="235.6" x2="907.7" y2="235.6" stroke="#1c1c1c" stroke-width="1.12"/>
<text x="855.8" y="178.8" font-size="8.8" text-anchor="middle" fill="#1e1e1e" textLength="67.8" lengthAdjust="spacingAndGlyphs" stroke="#1e1e1e" stroke-width="0.3">Volume de travail</text>
<text x="855.8" y="188.8" font-size="8.8" text-anchor="middle" fill="#1e1e1e" textLength="44.6" lengthAdjust="spacingAndGlyphs" stroke="#1e1e1e" stroke-width="0.3">= 1000 mm</text>
<text x="855.8" y="199.5" font-size="8.8" text-anchor="middle" fill="#1e1e1e" textLength="86.4" lengthAdjust="spacingAndGlyphs" stroke="#1e1e1e" stroke-width="0.3">A droite ou à Gauche</text>
<text x="286.6" y="113.8" font-size="10.4" text-anchor="start" fill="#1e1e1e" textLength="64.4" lengthAdjust="spacingAndGlyphs" stroke="#1e1e1e" stroke-width="0.3">Trappe de visite</text>
<path d="M352.8 111.5 L358.9 111.5 L382.6 154.4" fill="none" stroke="#2a2a2a" stroke-width="1" stroke-linejoin="round"/>
<polygon points="383.4,155.8 380.02,152.18 382.12,151.02" fill="#111"/>
<text x="738" y="226.8" font-size="10.4" text-anchor="start" fill="#1e1e1e" textLength="64.4" lengthAdjust="spacingAndGlyphs" stroke="#1e1e1e" stroke-width="0.3">Trappe de visite</text>
<line x1="734.7" y1="224.1" x2="714" y2="224.6" stroke="#2a2a2a" stroke-width="1"/>
<polygon points="711.6,224.7 716.43,223.63 716.37,226.03" fill="#111"/>
<text x="742.3" y="252.4" font-size="10.4" text-anchor="start" fill="#1e1e1e" textLength="70" lengthAdjust="spacingAndGlyphs" stroke="#1e1e1e" stroke-width="0.3">Alimentation Eau</text>
<path d="M740.1 249.9 L734.2 249.9 L724.4 243" fill="none" stroke="#2a2a2a" stroke-width="1" stroke-linejoin="round"/>
<polygon points="722.6,241.7 727.06,243.36 725.68,245.32" fill="#111"/>
<text x="453.8" y="279.6" font-size="10.4" text-anchor="start" fill="#1e1e1e" textLength="62.4" lengthAdjust="spacingAndGlyphs" stroke="#1e1e1e" stroke-width="0.3">Evacuation Eau</text>
<line x1="451.5" y1="275.6" x2="419" y2="277.4" stroke="#2a2a2a" stroke-width="1"/>
<polygon points="415.6,277.6 420.33,276.15 420.46,278.55" fill="#111"/>
<path d="M34.2 388.6 L173 468.41 L194 456.21 L60.2 379.28" fill="none" stroke="#1c1c1c" stroke-width="1.32" stroke-linejoin="round"/>
<line x1="34.2" y1="388.6" x2="53.52" y2="377.38" stroke="#1c1c1c" stroke-width="1.32"/>
<line x1="34.6" y1="390.83" x2="173" y2="470.41" stroke="#1c1c1c" stroke-width="1.03"/>
<line x1="173" y1="470.41" x2="194" y2="458.21" stroke="#1c1c1c" stroke-width="0.92"/>
<line x1="55.6" y1="403.11" x2="55.6" y2="405.31" stroke="#1c1c1c" stroke-width="1.49"/>
<line x1="74.9" y1="414.2" x2="74.9" y2="416.4" stroke="#1c1c1c" stroke-width="1.49"/>
<line x1="94.2" y1="425.3" x2="94.2" y2="427.5" stroke="#1c1c1c" stroke-width="1.49"/>
<line x1="113.5" y1="436.4" x2="113.5" y2="438.6" stroke="#1c1c1c" stroke-width="1.49"/>
<line x1="132.8" y1="447.5" x2="132.8" y2="449.69" stroke="#1c1c1c" stroke-width="1.49"/>
<line x1="152.1" y1="458.59" x2="152.1" y2="460.79" stroke="#1c1c1c" stroke-width="1.49"/>
<line x1="38.4" y1="404.62" x2="167.6" y2="478.91" stroke="#1c1c1c" stroke-width="1.15"/>
<line x1="38.4" y1="406.42" x2="167.6" y2="480.7" stroke="#1c1c1c" stroke-width="1.15"/>
<line x1="34.2" y1="388.6" x2="34.2" y2="465.6" stroke="#1c1c1c" stroke-width="1.32"/>
<line x1="40" y1="393.94" x2="40" y2="438.94" stroke="#1c1c1c" stroke-width="1.15"/>
<line x1="37.2" y1="404.33" x2="37.2" y2="452.33" stroke="#555" stroke-width="2.76"/>
<line x1="35.4" y1="403.29" x2="35.4" y2="441.29" stroke="#1c1c1c" stroke-width="0.92"/>
<circle cx="36.4" cy="395.2" r="0.7" fill="#1c1c1c" stroke="none" stroke-width="0"/>
<circle cx="36.4" cy="399.6" r="0.7" fill="#1c1c1c" stroke="none" stroke-width="0"/>
<circle cx="32.4" cy="433.4" r="1.2" fill="#1c1c1c" stroke="none" stroke-width="0"/>
<circle cx="33.2" cy="447.6" r="1" fill="#1c1c1c" stroke="none" stroke-width="0"/>
<line x1="43.7" y1="409.46" x2="43.7" y2="438.06" stroke="#1c1c1c" stroke-width="1.03"/>
<line x1="87.8" y1="434.82" x2="87.8" y2="456.82" stroke="#1c1c1c" stroke-width="1.03"/>
<line x1="136.1" y1="462.59" x2="136.1" y2="483.99" stroke="#1c1c1c" stroke-width="1.03"/>
<line x1="164.4" y1="478.87" x2="164.4" y2="514.97" stroke="#1c1c1c" stroke-width="1.03"/>
<line x1="43.7" y1="432.26" x2="164.4" y2="499.87" stroke="#1c1c1c" stroke-width="1.15"/>
<line x1="40.7" y1="436.34" x2="165.2" y2="501.53" stroke="#1c1c1c" stroke-width="1.09"/>
<line x1="40.7" y1="438.25" x2="165.2" y2="503.86" stroke="#1c1c1c" stroke-width="1.09"/>
<line x1="40.7" y1="440.17" x2="165.2" y2="506.19" stroke="#1c1c1c" stroke-width="1.49"/>
<line x1="40.7" y1="442.09" x2="165.2" y2="508.53" stroke="#1c1c1c" stroke-width="1.09"/>
<line x1="40.7" y1="444" x2="165.2" y2="510.86" stroke="#1c1c1c" stroke-width="1.49"/>
<line x1="40.7" y1="445.92" x2="165.2" y2="513.19" stroke="#1c1c1c" stroke-width="1.09"/>
<line x1="40.7" y1="447.84" x2="165.2" y2="515.52" stroke="#1c1c1c" stroke-width="1.09"/>
<line x1="42.2" y1="458" x2="167.6" y2="530.9" stroke="#1c1c1c" stroke-width="1.32"/>
<path d="M41 439 l5 4 l2 -3 l5 6 l2 -3 l6 7" fill="none" stroke="#1c1c1c" stroke-width="0.92"/>
<path d="M44 437 l14 8" fill="none" stroke="#1c1c1c" stroke-width="0.92"/>
<path d="M59.8 451 V442.5 Q60 437.2 65.2 436.9 Q69.6 436.7 73 440 L100.4 463.6 Q105.8 467.4 109 464.2 Q110.8 462 111.6 457.6 Q112.4 454 115.2 452.4" fill="none" stroke="#1c1c1c" stroke-width="3.45" stroke-linecap="round"/>
<path d="M59.8 451 V442.5 Q60 437.2 65.2 436.9 Q69.6 436.7 73 440 L100.4 463.6 Q105.8 467.4 109 464.2 Q110.8 462 111.6 457.6 Q112.4 454 115.2 452.4" fill="none" stroke="#fff" stroke-width="1.26" stroke-linecap="round"/>
<path d="M112 457 L120 459.4 L128 466" fill="none" stroke="#1c1c1c" stroke-width="1.03"/>
<path d="M96 436 Q104 444 110.6 456" fill="none" stroke="#1c1c1c" stroke-width="1.03"/>
<line x1="33.9" y1="465.4" x2="42.2" y2="457.4" stroke="#1c1c1c" stroke-width="1.15"/>
<line x1="35.8" y1="466" x2="44.5" y2="458.8" stroke="#1c1c1c" stroke-width="0.92"/>
<rect x="35.2" y="465.4" width="2.6" height="3.8" rx="1" fill="none" stroke="#1c1c1c" stroke-width="1.03"/>
<line x1="167.6" y1="467.31" x2="167.6" y2="531.31" stroke="#1c1c1c" stroke-width="1.15"/>
<line x1="173" y1="468.41" x2="173" y2="544.41" stroke="#1c1c1c" stroke-width="1.32"/>
<line x1="169.6" y1="468.46" x2="169.6" y2="532.46" stroke="#1c1c1c" stroke-width="0.92"/>
<path d="M167.6 531.6 Q168.4 538 171.4 544.4" fill="none" stroke="#1c1c1c" stroke-width="1.15"/>
<rect x="172.4" y="544.4" width="2.8" height="3.6" rx="1" fill="none" stroke="#1c1c1c" stroke-width="1.03"/>
<line x1="194" y1="456.21" x2="194" y2="534.81" stroke="#1c1c1c" stroke-width="1.32"/>
<line x1="173" y1="544.41" x2="194" y2="534.81" stroke="#1c1c1c" stroke-width="1.15"/>
<rect x="191.6" y="535" width="2.4" height="3" rx="1" fill="none" stroke="#1c1c1c" stroke-width="1.03"/>
<path d="M175.9 476 L194.6 466.6 L194.6 510.2 L175.9 519.8 Z" fill="none" stroke="#1c1c1c" stroke-width="1.15" stroke-linejoin="round"/>
<line x1="176.6" y1="476.4" x2="176.6" y2="519.4" stroke="#1c1c1c" stroke-width="2.07"/>
<circle cx="195.2" cy="468.8" r="1.6" fill="#1c1c1c" stroke="none" stroke-width="0"/>
<circle cx="195.2" cy="488.4" r="1.6" fill="#1c1c1c" stroke="none" stroke-width="0"/>
<circle cx="195.2" cy="508.2" r="1.6" fill="#1c1c1c" stroke="none" stroke-width="0"/>
<circle cx="175.9" cy="479.4" r="1.6" fill="#1c1c1c" stroke="none" stroke-width="0"/>
<circle cx="175.9" cy="499.2" r="1.6" fill="#1c1c1c" stroke="none" stroke-width="0"/>
<circle cx="175.9" cy="518.8" r="1.6" fill="#1c1c1c" stroke="none" stroke-width="0"/>
<circle cx="182.6" cy="466.4" r="0.8" fill="#1c1c1c" stroke="none" stroke-width="0"/>
<circle cx="189.2" cy="462.8" r="0.8" fill="#1c1c1c" stroke="none" stroke-width="0"/>
<path d="M179 529.4 L189.4 524.8 Q191 524.2 191 526 V533.4 Q191 534.6 189.8 535.2 L179.4 540 Q177.6 540.8 177.6 539 V531.4 Q177.6 530 179 529.4 Z" fill="none" stroke="#1c1c1c" stroke-width="1.15"/>
<path d="M17.6 383.9 L17.6 417.2 L33.3 424.4" fill="none" stroke="#1c1c1c" stroke-width="1.26" stroke-linejoin="round"/>
<path d="M22.3 386.6 L22.3 419.6" fill="none" stroke="#1c1c1c" stroke-width="1.15" stroke-linejoin="round"/>
<line x1="17.6" y1="383.9" x2="33.6" y2="391.6" stroke="#1c1c1c" stroke-width="1.26"/>
<line x1="17.6" y1="383.9" x2="37.1" y2="372.3" stroke="#1c1c1c" stroke-width="1.26"/>
<line x1="22.3" y1="386.4" x2="41.8" y2="374.9" stroke="#1c1c1c" stroke-width="1.03"/>
<line x1="37.1" y1="372.3" x2="46.5" y2="377.6" stroke="#1c1c1c" stroke-width="1.26"/>
<line x1="46.5" y1="377.6" x2="34.8" y2="386.6" stroke="#1c1c1c" stroke-width="1.15"/>
<line x1="46.5" y1="377.6" x2="51" y2="373.9" stroke="#1c1c1c" stroke-width="1.15"/>
<line x1="51" y1="373.9" x2="58.6" y2="376.8" stroke="#1c1c1c" stroke-width="1.15"/>
<line x1="33.3" y1="392" x2="33.3" y2="424.4" stroke="#1c1c1c" stroke-width="1.26"/>
<circle cx="59.4" cy="376.6" r="1" fill="#1c1c1c" stroke="none" stroke-width="0"/>
<path d="M409.7 380.16 L275.9 457.9 L298.3 469.8 L432.1 392.06 L411.27 381" fill="none" stroke="#1c1c1c" stroke-width="1.32" stroke-linejoin="round"/>
<line x1="409.7" y1="380.16" x2="417.66" y2="385.5" stroke="#1c1c1c" stroke-width="1.26"/>
<line x1="298.3" y1="471.8" x2="432.1" y2="394.06" stroke="#1c1c1c" stroke-width="1.03"/>
<line x1="298.3" y1="471.8" x2="275.9" y2="459.9" stroke="#1c1c1c" stroke-width="0.92"/>
<line x1="318.1" y1="460.5" x2="318.1" y2="462.7" stroke="#1c1c1c" stroke-width="1.49"/>
<line x1="337" y1="449.52" x2="337" y2="451.72" stroke="#1c1c1c" stroke-width="1.49"/>
<line x1="355.9" y1="438.53" x2="355.9" y2="440.73" stroke="#1c1c1c" stroke-width="1.49"/>
<line x1="374.8" y1="427.55" x2="374.8" y2="429.75" stroke="#1c1c1c" stroke-width="1.49"/>
<line x1="393.7" y1="416.57" x2="393.7" y2="418.77" stroke="#1c1c1c" stroke-width="1.49"/>
<line x1="412.6" y1="405.59" x2="412.6" y2="407.79" stroke="#1c1c1c" stroke-width="1.49"/>
<line x1="302.9" y1="480.53" x2="427.3" y2="408.25" stroke="#1c1c1c" stroke-width="1.15"/>
<line x1="302.9" y1="482.33" x2="427.3" y2="410.05" stroke="#1c1c1c" stroke-width="1.15"/>
<line x1="298.3" y1="469.8" x2="298.3" y2="527.8" stroke="#1c1c1c" stroke-width="1.32"/>
<line x1="302.5" y1="469.36" x2="302.5" y2="530.36" stroke="#1c1c1c" stroke-width="1.15"/>
<line x1="304.1" y1="481.63" x2="304.1" y2="508.43" stroke="#1c1c1c" stroke-width="1.15"/>
<line x1="305.5" y1="480.82" x2="305.5" y2="507.62" stroke="#1c1c1c" stroke-width="0.8"/>
<line x1="338.9" y1="461.41" x2="338.9" y2="487.81" stroke="#1c1c1c" stroke-width="1.03"/>
<line x1="385.3" y1="434.45" x2="385.3" y2="460.85" stroke="#1c1c1c" stroke-width="1.03"/>
<line x1="425.7" y1="410.98" x2="425.7" y2="445.78" stroke="#1c1c1c" stroke-width="1.03"/>
<line x1="303.3" y1="509.5" x2="427.7" y2="437.22" stroke="#1c1c1c" stroke-width="1.15"/>
<line x1="303.3" y1="511.3" x2="427.7" y2="439.02" stroke="#1c1c1c" stroke-width="1.03"/>
<line x1="303.3" y1="513.1" x2="427.7" y2="440.82" stroke="#1c1c1c" stroke-width="1.49"/>
<line x1="303.3" y1="514.89" x2="427.7" y2="442.62" stroke="#1c1c1c" stroke-width="1.03"/>
<line x1="303.3" y1="516.7" x2="427.7" y2="444.42" stroke="#1c1c1c" stroke-width="1.49"/>
<line x1="303.3" y1="518.5" x2="427.7" y2="446.22" stroke="#1c1c1c" stroke-width="1.15"/>
<line x1="302.9" y1="531.53" x2="422.5" y2="461.64" stroke="#1c1c1c" stroke-width="1.32"/>
<line x1="432.1" y1="392.06" x2="432.1" y2="468.66" stroke="#1c1c1c" stroke-width="1.32"/>
<line x1="428.9" y1="410.92" x2="428.9" y2="441.92" stroke="#555" stroke-width="2.99"/>
<line x1="427.1" y1="396.97" x2="427.1" y2="444.97" stroke="#1c1c1c" stroke-width="1.03"/>
<circle cx="433.6" cy="439" r="1" fill="#1c1c1c" stroke="none" stroke-width="0"/>
<circle cx="433.4" cy="414.6" r="0.9" fill="#1c1c1c" stroke="none" stroke-width="0"/>
<path d="M422.4 460.6 L427.8 456.8 M424 461.4 Q428.6 462.4 430.2 468.6" fill="none" stroke="#1c1c1c" stroke-width="1.03"/>
<rect x="430" y="468.2" width="3" height="3.2" rx="1" fill="none" stroke="#1c1c1c" stroke-width="1.03"/>
<path d="M302.8 531.6 Q300.4 537 298.6 544.4" fill="none" stroke="#1c1c1c" stroke-width="1.15"/>
<path d="M298.3 527.8 Q297.4 536 295.8 543.8" fill="none" stroke="#1c1c1c" stroke-width="1.15"/>
<rect x="295.4" y="543.8" width="3.4" height="3.4" rx="1" fill="none" stroke="#1c1c1c" stroke-width="1.03"/>
<line x1="275.9" y1="457.9" x2="275.9" y2="533.9" stroke="#1c1c1c" stroke-width="1.32"/>
<line x1="275.9" y1="533.9" x2="295.8" y2="543.8" stroke="#1c1c1c" stroke-width="1.15"/>
<rect x="277.4" y="534.4" width="2.6" height="3.2" rx="1" fill="none" stroke="#1c1c1c" stroke-width="1.03"/>
<path d="M275.6 469.4 L295.6 480.2 L295.6 519 L275.6 508.8 Z" fill="none" stroke="#1c1c1c" stroke-width="1.15" stroke-linejoin="round"/>
<line x1="294.6" y1="479.8" x2="294.6" y2="518.6" stroke="#1c1c1c" stroke-width="2.07"/>
<circle cx="275.5" cy="470.2" r="1.6" fill="#1c1c1c" stroke="none" stroke-width="0"/>
<circle cx="275.5" cy="489.6" r="1.6" fill="#1c1c1c" stroke="none" stroke-width="0"/>
<circle cx="275.5" cy="508.8" r="1.6" fill="#1c1c1c" stroke="none" stroke-width="0"/>
<circle cx="294.2" cy="480.8" r="1.6" fill="#1c1c1c" stroke="none" stroke-width="0"/>
<circle cx="294.2" cy="500" r="1.6" fill="#1c1c1c" stroke="none" stroke-width="0"/>
<circle cx="294.8" cy="518.6" r="1.6" fill="#1c1c1c" stroke="none" stroke-width="0"/>
<circle cx="283.6" cy="464.6" r="0.8" fill="#1c1c1c" stroke="none" stroke-width="0"/>
<circle cx="290.6" cy="468.2" r="0.8" fill="#1c1c1c" stroke="none" stroke-width="0"/>
<circle cx="299.6" cy="473.2" r="0.8" fill="#1c1c1c" stroke="none" stroke-width="0"/>
<circle cx="299.6" cy="477.4" r="0.8" fill="#1c1c1c" stroke="none" stroke-width="0"/>
<path d="M280.4 525.8 L290.8 530.8 Q292.5 531.6 292.5 533.4 V539.2 Q292.5 541 290.8 540.2 L280.4 535.2 Q278.8 534.4 278.8 532.6 V526.8 Q278.8 525 280.4 525.8 Z" fill="none" stroke="#1c1c1c" stroke-width="1.15"/>
<path d="M418.9 381.4 L429.6 375.3 L447.4 385.8 L436.8 392" fill="none" stroke="#1c1c1c" stroke-width="1.26" stroke-linejoin="round"/>
<line x1="425.8" y1="377.6" x2="443.4" y2="387.9" stroke="#1c1c1c" stroke-width="1.03"/>
<line x1="447.4" y1="385.8" x2="447.4" y2="419.1" stroke="#1c1c1c" stroke-width="1.26"/>
<line x1="443.4" y1="388.2" x2="443.4" y2="421.6" stroke="#1c1c1c" stroke-width="1.03"/>
<line x1="447.4" y1="419.1" x2="434.2" y2="427.2" stroke="#1c1c1c" stroke-width="1.15"/>
<line x1="436.8" y1="392" x2="436.8" y2="396" stroke="#1c1c1c" stroke-width="1.03"/>
<path d="M434.4 395.2 L439.4 392.6 L443.4 395 L443.4 405" fill="none" stroke="#1c1c1c" stroke-width="1.03" stroke-linejoin="round"/>
<line x1="439.4" y1="396.6" x2="439.4" y2="424" stroke="#1c1c1c" stroke-width="1.03"/>
<line x1="434.4" y1="395.2" x2="434.4" y2="410" stroke="#1c1c1c" stroke-width="1.03"/>
<line x1="439.4" y1="407.2" x2="447.4" y2="403" stroke="#1c1c1c" stroke-width="0.92"/>
<circle cx="449" cy="397.8" r="0.9" fill="#1c1c1c" stroke="none" stroke-width="0"/>
<line x1="221.7" y1="532.3" x2="256.4" y2="512" stroke="#1c1c1c" stroke-width="0.9"/>
<polygon points="269.5,504.6 253.4,508.6 257.9,516.2" fill="#111"/>
<text x="217" y="529.6" font-size="7.2" text-anchor="start" fill="#1e1e1e" transform="rotate(-30.3 217 529.6)" textLength="41" lengthAdjust="spacingAndGlyphs" font-style="italic" stroke="#1e1e1e" stroke-width="0.3">Evaporateur</text>
<line x1="464.3" y1="399.2" x2="498.8" y2="379" stroke="#1c1c1c" stroke-width="0.9"/>
<polygon points="450.3,408.7 462.0,396.2 466.6,403.6" fill="#111"/>
<text x="463.4" y="397.6" font-size="7.2" text-anchor="start" fill="#1e1e1e" transform="rotate(-30.2 463.4 397.6)" textLength="41" lengthAdjust="spacingAndGlyphs" font-style="italic" stroke="#1e1e1e" stroke-width="0.3">Evaporateur</text>
<line x1="386.6" y1="513.2" x2="418.6" y2="532.2" stroke="#1c1c1c" stroke-width="0.9"/>
<polygon points="372,505.7 388.3,509.2 383.8,516.6" fill="#111"/>
<text x="388.8" y="511" font-size="7.2" text-anchor="start" fill="#1e1e1e" transform="rotate(30.7 388.8 511)" textLength="44" lengthAdjust="spacingAndGlyphs" font-style="italic" stroke="#1e1e1e" stroke-width="0.3">Sens du Flux</text>
<path d="M748.9 422.7 L838.5 370.2 L854.2 379.1 L763.8 431 Z" fill="none" stroke="#1c1c1c" stroke-width="1.15" stroke-linejoin="round"/>
<path d="M748.9 422.7 L748.9 494.8 L763.8 502.2 L763.8 431" fill="none" stroke="#1c1c1c" stroke-width="1.15" stroke-linejoin="round"/>
<path d="M763.8 502.2 L854.2 451.8 L854.2 379.1" fill="none" stroke="#1c1c1c" stroke-width="1.15" stroke-linejoin="round"/>
<path d="M838.5 370.2 L838.5 441.4 L854.2 451.8" fill="none" stroke="#1c1c1c" stroke-width="1.1" stroke-linejoin="round"/>
<path d="M748.9 494.8 L838.5 441.4" fill="none" stroke="#1c1c1c" stroke-width="1.1" stroke-linejoin="round"/>
<line x1="763.8" y1="435.4" x2="854.2" y2="383.5" stroke="#1c1c1c" stroke-width="1"/>
<text x="764" y="392.8" font-size="11" text-anchor="start" fill="#1e1e1e" transform="rotate(-30.4 764 392.8)" textLength="66.5" lengthAdjust="spacingAndGlyphs" stroke="#1e1e1e" stroke-width="0.3">Evaporateur</text>
<text x="711.9" y="445.8" font-size="12" text-anchor="start" fill="#1e1e1e" textLength="26.7" lengthAdjust="spacingAndGlyphs" stroke="#1e1e1e" stroke-width="0.3">Haut</text>
<text x="862.5" y="437.6" font-size="12" text-anchor="start" fill="#1e1e1e" textLength="19.4" lengthAdjust="spacingAndGlyphs" stroke="#1e1e1e" stroke-width="0.3">Bas</text>
<line x1="742.4" y1="456.4" x2="742.4" y2="432" stroke="#1c1c1c" stroke-width="1.5"/>
<polygon points="742.4,422.4 739.4,434.6 745.4,434.6" fill="#111"/>
<line x1="858.7" y1="418.4" x2="858.7" y2="442" stroke="#1c1c1c" stroke-width="1.5"/>
<polygon points="858.7,451.4 855.7,439.4 861.7,439.4" fill="#111"/>
<text x="586.7" y="491.8" font-size="15.2" text-anchor="middle" fill="#5e5e5e" textLength="187.2" lengthAdjust="spacingAndGlyphs">Possibilité de déporter le</text>
<text x="585.6" y="511.3" font-size="15.2" text-anchor="middle" fill="#5e5e5e" textLength="221.5" lengthAdjust="spacingAndGlyphs">boitier électronique si besoin.</text>
</svg>
</body></html>
